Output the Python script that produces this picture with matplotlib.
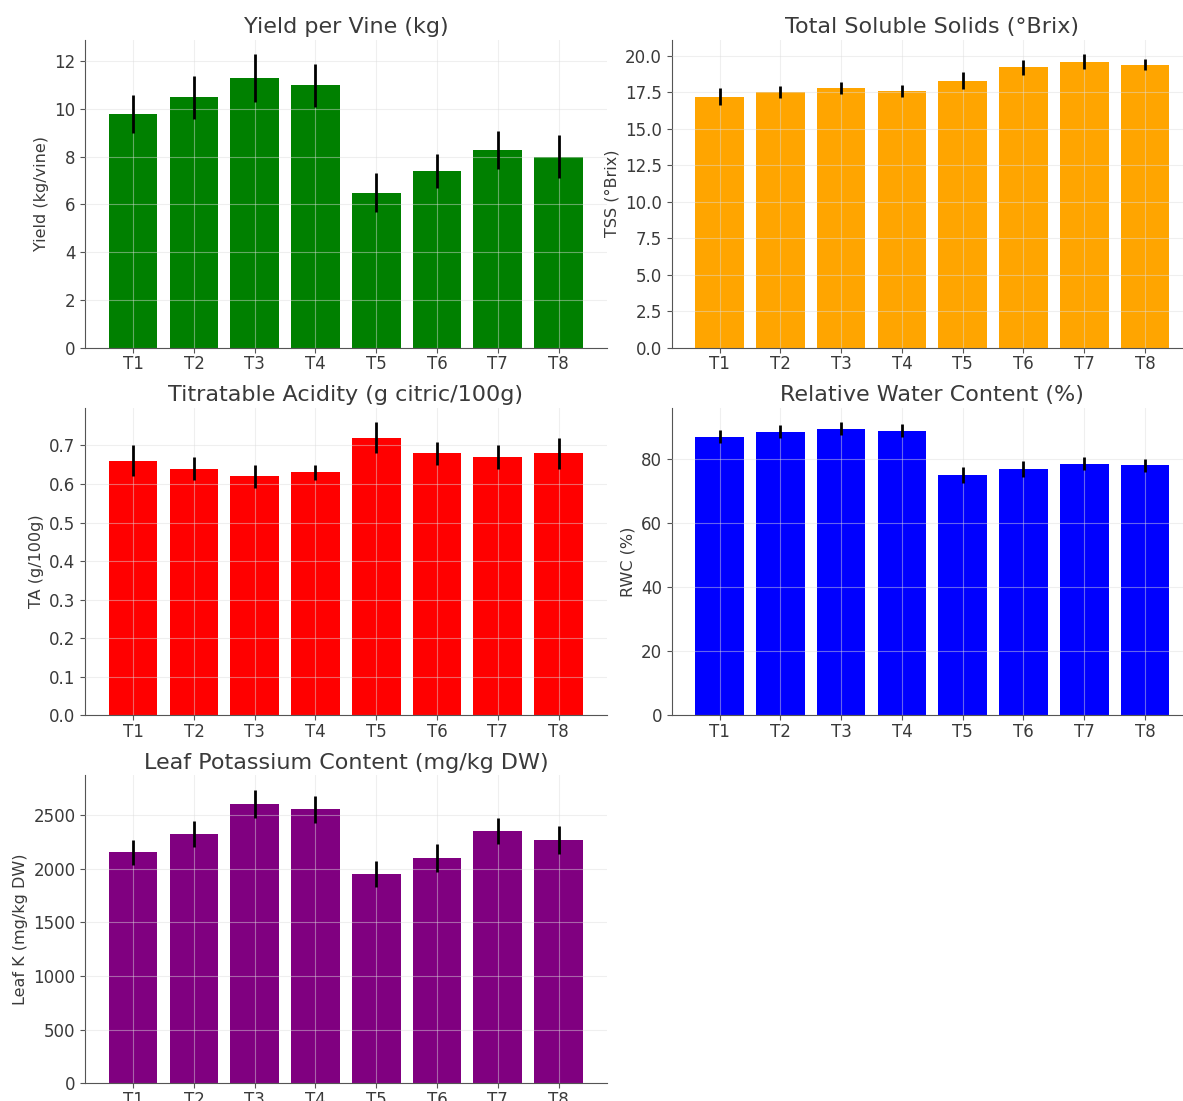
import matplotlib
matplotlib.use('Agg')
import matplotlib.pyplot as plt
import numpy as np

# treatments and measured means with their standard deviations
treatments = ['T1', 'T2', 'T3', 'T4', 'T5', 'T6', 'T7', 'T8']

yield_kg = [9.8, 10.5, 11.3, 11.0, 6.5, 7.4, 8.3, 8.0]
yield_sd = [0.8, 0.9, 1.0, 0.9, 0.8, 0.7, 0.8, 0.9]

tss = [17.2, 17.5, 17.8, 17.6, 18.3, 19.2, 19.6, 19.4]
tss_sd = [0.6, 0.4, 0.4, 0.4, 0.6, 0.5, 0.5, 0.4]

ta = [0.66, 0.64, 0.62, 0.63, 0.72, 0.68, 0.67, 0.68]
ta_sd = [0.04, 0.03, 0.03, 0.02, 0.04, 0.03, 0.03, 0.04]

rwc = [87.0, 88.5, 89.5, 88.8, 75.0, 77.0, 78.5, 78.0]
rwc_sd = [2.0, 2.0, 2.0, 2.0, 2.5, 2.5, 2.0, 2.0]

leaf_k = [2150, 2320, 2600, 2550, 1950, 2100, 2350, 2270]
leaf_k_sd = [120, 120, 130, 130, 120, 130, 120, 130]

plt.rcParams.update({
    'axes.spines.top': False,
    'axes.spines.right': False,
    'axes.edgecolor': '#555555',
    'axes.titlecolor': '#3a3a3a',
    'axes.labelcolor': '#3a3a3a',
    'xtick.color': '#555555',
    'ytick.color': '#555555',
    'xtick.labelcolor': '#3a3a3a',
    'ytick.labelcolor': '#3a3a3a',
})

panels = [
    (yield_kg, yield_sd, 'green', 'Yield per Vine (kg)', 'Yield (kg/vine)'),
    (tss, tss_sd, 'orange', 'Total Soluble Solids (°Brix)', 'TSS (°Brix)'),
    (ta, ta_sd, 'red', 'Titratable Acidity (g citric/100g)', 'TA (g/100g)'),
    (rwc, rwc_sd, 'blue', 'Relative Water Content (%)', 'RWC (%)'),
    (leaf_k, leaf_k_sd, 'purple', 'Leaf Potassium Content (mg/kg DW)', 'Leaf K (mg/kg DW)'),
]

fig, axes = plt.subplots(3, 2, figsize=(11.83, 11.01), dpi=100)
# right column runs a little past the canvas edge
fig.subplots_adjust(left=0.072, right=1193 / 1183, top=0.964, bottom=0.016,
                    wspace=0.125, hspace=0.195)
axes = axes.flatten()

x = np.arange(len(treatments))
for ax, (vals, sd, col, title, ylab) in zip(axes, panels):
    ax.bar(x, vals, yerr=sd, color=col, width=0.8,
           error_kw=dict(ecolor='black', elinewidth=2, capsize=0, zorder=3))
    ax.set_xticks(x)
    ax.set_xticklabels(treatments, fontsize=12)
    ax.tick_params(axis='y', labelsize=12)
    ax.tick_params(axis='x', pad=2)
    ax.set_title(title, fontsize=16, pad=5)
    ax.set_ylabel(ylab, fontsize=11.5)
    ax.grid(True, color='#dddddd', alpha=0.45, linewidth=0.8)
    ax.set_axisbelow(False)

fig.delaxes(axes[5])

plt.savefig('out.png', dpi=100)
